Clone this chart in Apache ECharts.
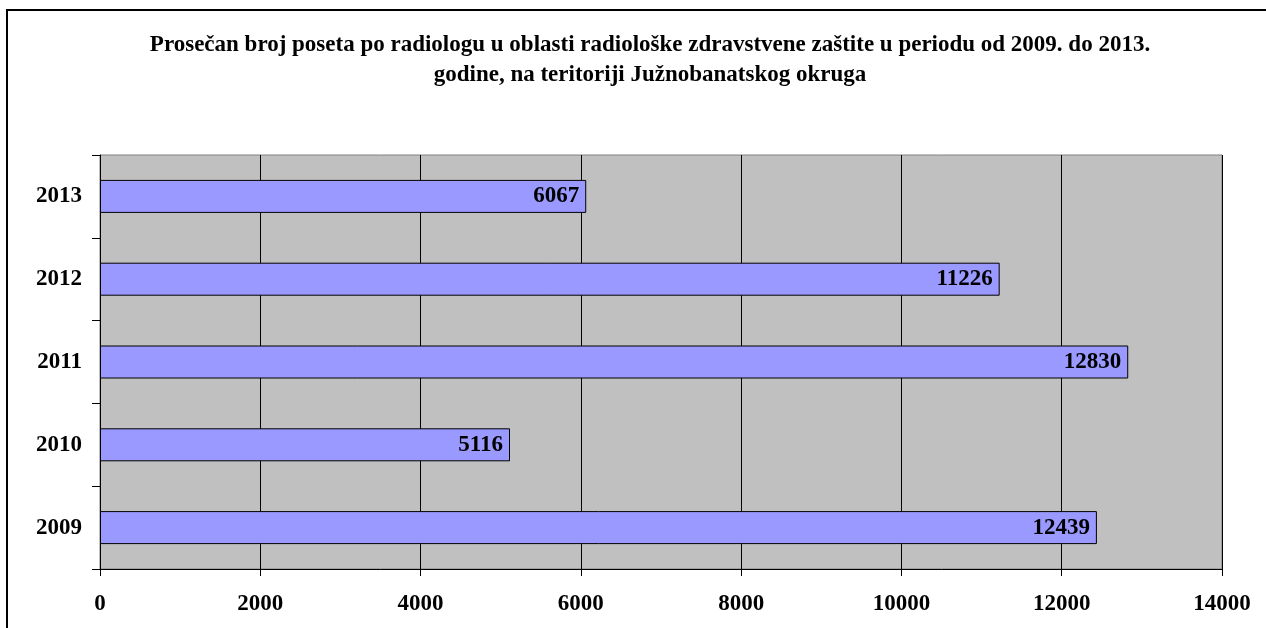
<!DOCTYPE html>
<html>
<head>
<meta charset="utf-8">
<script src="https://cdn.jsdelivr.net/npm/echarts@6/dist/echarts.min.js"></script>
<style>
html,body{margin:0;padding:0;background:#fff;}
#c{width:1266px;height:628px;}
</style>
</head>
<body>
<div id="c"></div>
<script>
var titleText = 'Prosečan broj poseta po radiologu u oblasti radiološke zdravstvene zaštite u periodu od 2009. do 2013.\ngodine, na teritoriji Južnobanatskog okruga';
var categories = ['2009', '2010', '2011', '2012', '2013'];
var visits = [12439, 5116, 12830, 11226, 6067];
var xMin = 0, xMax = 14000, xStep = 2000;

var font = '"Liberation Serif", "Times New Roman", serif';
var chart = echarts.init(document.getElementById('c'));
chart.setOption({
  animation: false,
  backgroundColor: '#fff',
  graphic: [
    {type: 'rect', shape: {x: 7, y: 10, width: 1400, height: 800},
     style: {fill: 'none', stroke: '#000', lineWidth: 2}, silent: true},
    {type: 'text', x: 650, y: 30,
     style: {text: titleText, font: 'bold 23px ' + font, fill: '#000',
             align: 'center', verticalAlign: 'top', lineHeight: 30}}
  ],
  grid: {left: 100, right: 44, top: 155, bottom: 59, show: true,
         backgroundColor: '#C0C0C0', borderColor: '#808080', borderWidth: 1},
  xAxis: {
    type: 'value', min: xMin, max: xMax, interval: xStep,
    axisLine: {show: true, lineStyle: {color: '#000', width: 1}},
    axisTick: {show: true, length: 7, lineStyle: {color: '#000'}},
    splitLine: {show: true, lineStyle: {color: '#000', width: 1}},
    axisLabel: {margin: 24, color: '#000', fontFamily: font, fontWeight: 'bold', fontSize: 23,
                formatter: function (v) { return String(v); }}
  },
  yAxis: {
    type: 'category', data: categories,
    axisLine: {show: true, lineStyle: {color: '#000', width: 1}},
    axisTick: {show: true, length: 8, lineStyle: {color: '#000'}},
    axisLabel: {margin: 18, color: '#000', fontFamily: font, fontWeight: 'bold', fontSize: 23}
  },
  series: [{
    type: 'bar', data: visits, barWidth: 33,
    itemStyle: {color: '#9999FF', borderColor: '#000', borderWidth: 1},
    label: {show: true, position: 'insideRight', distance: 7, color: '#000',
            fontFamily: font, fontWeight: 'bold', fontSize: 23}
  }]
});
</script>
</body>
</html>
